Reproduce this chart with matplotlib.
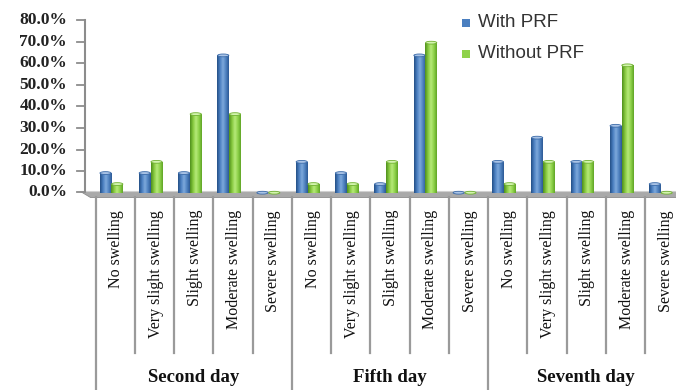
import matplotlib
matplotlib.use("Agg")
import matplotlib.pyplot as plt
import numpy as np
from matplotlib.patches import Ellipse, Polygon, Rectangle
from matplotlib.transforms import blended_transform_factory
from matplotlib.colors import LinearSegmentedColormap

# ---- data ----
days = ["Second day", "Fifth day", "Seventh day"]
levels = ["No swelling", "Very slight swelling", "Slight swelling",
          "Moderate swelling", "Severe swelling"]
with_prf = [9.1, 9.1, 9.1, 63.6, 0.0,
            14.3, 9.1, 4.0, 63.6, 0.0,
            14.3, 25.5, 14.3, 31.0, 4.0]
without_prf = [4.0, 14.3, 36.4, 36.4, 0.0,
               4.0, 4.0, 14.3, 69.5, 0.0,
               4.0, 14.3, 14.3, 59.0, 0.0]
series_names = ["With PRF", "Without PRF"]
yticks = [0, 10, 20, 30, 40, 50, 60, 70, 80]

W, H = 676, 390
fig = plt.figure(figsize=(W / 100, H / 100), dpi=100)

def fx(px):
    return px / W

def fy(py):
    return 1 - py / H

y0px, y80px = 192.7, 20.0
cat_w = 39.24
first_left = 95.7
ax_left = 85.0
n = len(levels) * len(days)
xl = -0.5 - (first_left - ax_left) / cat_w
xr = -0.5 + (W - first_left) / cat_w
ax = fig.add_axes([fx(ax_left), fy(y0px), fx(W - ax_left), (y0px - y80px) / H])
ax.set_zorder(3)
ax.patch.set_alpha(0)
ax.set_xlim(xl, xr)
ax.set_ylim(0, 80)
ax.axis("off")

# floor (3D base)
floor = Polygon([[fx(80), fy(190.5)], [fx(676), fy(190.5)], [fx(676), fy(196.5)], [fx(90), fy(196.5)]],
                closed=True, transform=fig.transFigure, facecolor="#a9a9a9", edgecolor="#8c8c8c",
                linewidth=0.6, zorder=0)
fig.patches.append(floor)
fig.add_artist(plt.Line2D([fx(80), fx(676)], [fy(190.5), fy(190.5)], transform=fig.transFigure,
                          color="#d0d0d0", lw=0.8, zorder=1))

# y axis
fig.add_artist(plt.Line2D([fx(85), fx(85)], [fy(20), fy(190.5)], transform=fig.transFigure,
                          color="#8c8c8c", lw=1.5))
for t in yticks:
    ypx = y0px - (y0px - y80px) * t / 80.0
    if t == 0:
        ypx = 192
    fig.add_artist(plt.Line2D([fx(77), fx(85)], [fy(ypx), fy(ypx)], transform=fig.transFigure,
                              color="#8c8c8c", lw=1.3))
    fig.text(fx(67), fy(ypx), f"{t:.1f}%", ha="right", va="center",
             fontsize=12.5, fontweight="bold", family="Liberation Serif", color="#222222")

x = np.arange(n)
bw = 0.30
offs = [-0.25, 0.05]
styles = [
    dict(cols=["#244f86", "#4a7fc0", "#7ea9dc", "#4f82c0", "#2c5a95"], cap="#a9c3e6", capedge="#3a6aa8"),
    dict(cols=["#4f8f1c", "#86c83e", "#b6ea7a", "#8fd24a", "#5fa526"], cap="#d3f4ae", capedge="#6fb030"),
]
grads = [LinearSegmentedColormap.from_list(f"g{i}", s["cols"]) for i, s in enumerate(styles)]
gimg = np.linspace(0, 1, 64).reshape(1, -1)

for si, vals in enumerate([with_prf, without_prf]):
    bars = ax.bar(x + offs[si], vals, width=bw, color=styles[si]["cols"][2], edgecolor="none", zorder=3)
    for b, v in zip(bars, vals):
        bx, bwid, bh = b.get_x(), b.get_width(), b.get_height()
        if bh > 0:
            im = ax.imshow(gimg, cmap=grads[si], aspect="auto",
                           extent=[bx, bx + bwid, 0, bh], zorder=3.5, interpolation="bilinear")
            im.set_clip_path(b)
        cap = Ellipse((bx + bwid / 2, bh), bwid * 0.95, 1.3, facecolor=styles[si]["cap"],
                      edgecolor=styles[si]["capedge"], linewidth=0.6, zorder=4, clip_on=False)
        ax.add_patch(cap)
ax.set_xlim(xl, xr)
ax.set_ylim(0, 80)

# category axis lines & labels
tr = blended_transform_factory(ax.transData, fig.transFigure)
div_col = "#9a9a9a"
for i in range(n + 1):
    xb = i - 0.5
    if i % len(levels) == 0:
        ytop, ybot = 197, 390
    else:
        ytop, ybot = 197, 353
    ax.add_artist(plt.Line2D([xb, xb], [fy(ytop), fy(ybot)], transform=tr, color=div_col,
                             lw=1.6, clip_on=False))
for i in range(n):
    ax.text(i + 0.03, fy(210), levels[i % len(levels)], transform=tr, rotation=90,
            ha="center", va="top", fontsize=11.5, family="Liberation Serif", color="#111111",
            clip_on=False)
for d, name in enumerate(days):
    xc = d * len(levels) + (len(levels) - 1) / 2
    ax.text(xc, fy(378), name, transform=tr, ha="center", va="center", fontsize=13.5,
            fontweight="bold", family="Liberation Serif", color="#111111", clip_on=False)

# legend
leg_cols = ["#4a7fc0", "#8fd24a"]
leg_y = [22.7, 54.0]
for name, c, ly in zip(series_names, leg_cols, leg_y):
    fig.patches.append(Rectangle((fx(462), fy(ly + 4.2)), fx(8.4), 8.4 / H,
                                 transform=fig.transFigure, facecolor=c, edgecolor="none"))
    fig.text(fx(478), fy(ly), name, ha="left", va="center", fontsize=13.5,
             family="Liberation Sans", color="#333333")

fig.savefig("out.png", dpi=100)
